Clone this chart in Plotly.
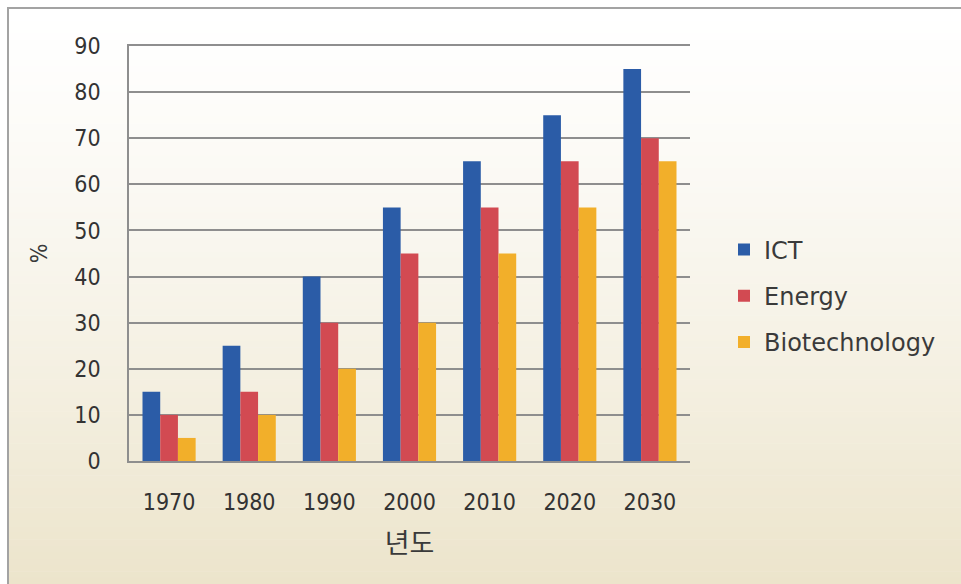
import plotly.graph_objects as go

# Data
years = ["1970", "1980", "1990", "2000", "2010", "2020", "2030"]
ict = [15, 25, 40, 55, 65, 75, 85]
energy = [10, 15, 30, 45, 55, 65, 70]
biotech = [5, 10, 20, 30, 45, 55, 65]
series_names = ["ICT", "Energy", "Biotechnology"]
series_colors = ["#2B5CA7", "#D24A52", "#F2AF2A"]
y_ticks = [0, 10, 20, 30, 40, 50, 60, 70, 80, 90]

W, H = 961, 584
L, R, T, B = 129, 271, 46, 123
PW, PH = W - L - R, H - T - B

FONT = "DejaVu Sans Condensed, DejaVu Sans, sans-serif"
LEG_FONT = "DejaVu Sans, sans-serif"
TXT = "#3a3a3a"
GRID = "#8E8E8E"


def px_to_paper(px, py):
    return (px - L) / PW, (H - B - py) / PH


fig = go.Figure()
for name, vals, col in zip(series_names, [ict, energy, biotech], series_colors):
    fig.add_trace(go.Bar(
        x=years, y=vals, name=name, legendgroup=name,
        marker=dict(color=col, line=dict(width=0)),
    ))

# Background: soft vertical gradient from white to pale beige
shapes = []
top_c = (255, 255, 255)
bot_c = (236, 228, 203)
y_start, y_end = 8, H
n = 90
for i in range(n):
    py0 = y_start + (y_end - y_start) * i / n
    py1 = y_start + (y_end - y_start) * (i + 1) / n + 0.6
    t = (i + 0.5) / n
    t = t ** 1.25
    c = tuple(round(a + (b - a) * t) for a, b in zip(top_c, bot_c))
    x0, y0 = px_to_paper(9, py0)
    x1, y1 = px_to_paper(W + 5, py1)
    shapes.append(dict(type="rect", xref="paper", yref="paper",
                       x0=x0, x1=x1, y0=y1, y1=y0, layer="below",
                       line=dict(width=0), fillcolor="rgb(%d,%d,%d)" % c))

# Frame border (top and left edges visible)
bx0, by0 = px_to_paper(8, 8)
bx1, by1 = px_to_paper(W + 10, H + 10)
shapes.append(dict(type="rect", xref="paper", yref="paper",
                   x0=bx0, x1=bx1, y0=by1, y1=by0, layer="above",
                   line=dict(color="#A3A3A3", width=2), fillcolor="rgba(0,0,0,0)"))

lx, ly = px_to_paper(724, 296)

fig.update_layout(
    width=W, height=H,
    margin=dict(l=L, r=R, t=T, b=B, pad=0),
    paper_bgcolor="white",
    plot_bgcolor="rgba(0,0,0,0)",
    barmode="group",
    bargap=0.337,
    bargroupgap=0,
    shapes=shapes,
    font=dict(family=FONT, color=TXT, size=22),
    showlegend=True,
    legend=dict(
        x=lx, y=ly, xanchor="left", yanchor="middle",
        bgcolor="rgba(0,0,0,0)", borderwidth=0,
        font=dict(family=LEG_FONT, size=24, color=TXT),
        tracegroupgap=12,
    ),
    xaxis=dict(
        showgrid=False, ticks="",
        showline=True, mirror=True, linecolor=GRID, linewidth=1.5,
        tickfont=dict(family=FONT, size=23, color="#333333"),
        ticklabelstandoff=20,
        title=dict(text="년도", standoff=20,
                   font=dict(family="Noto Sans CJK KR, sans-serif", size=27, color=TXT)),
    ),
    yaxis=dict(
        range=[0, 90], tickvals=y_ticks,
        showgrid=True, gridcolor=GRID, gridwidth=1.5,
        zeroline=False,
        showline=True, linecolor=GRID, linewidth=1.5,
        ticks="",
        tickfont=dict(family=FONT, size=23, color="#333333"),
        ticklabelstandoff=22,
        title=dict(text="%", standoff=20,
                   font=dict(family=FONT, size=23, color=TXT)),
    ),
)

fig.write_html("out.html")
